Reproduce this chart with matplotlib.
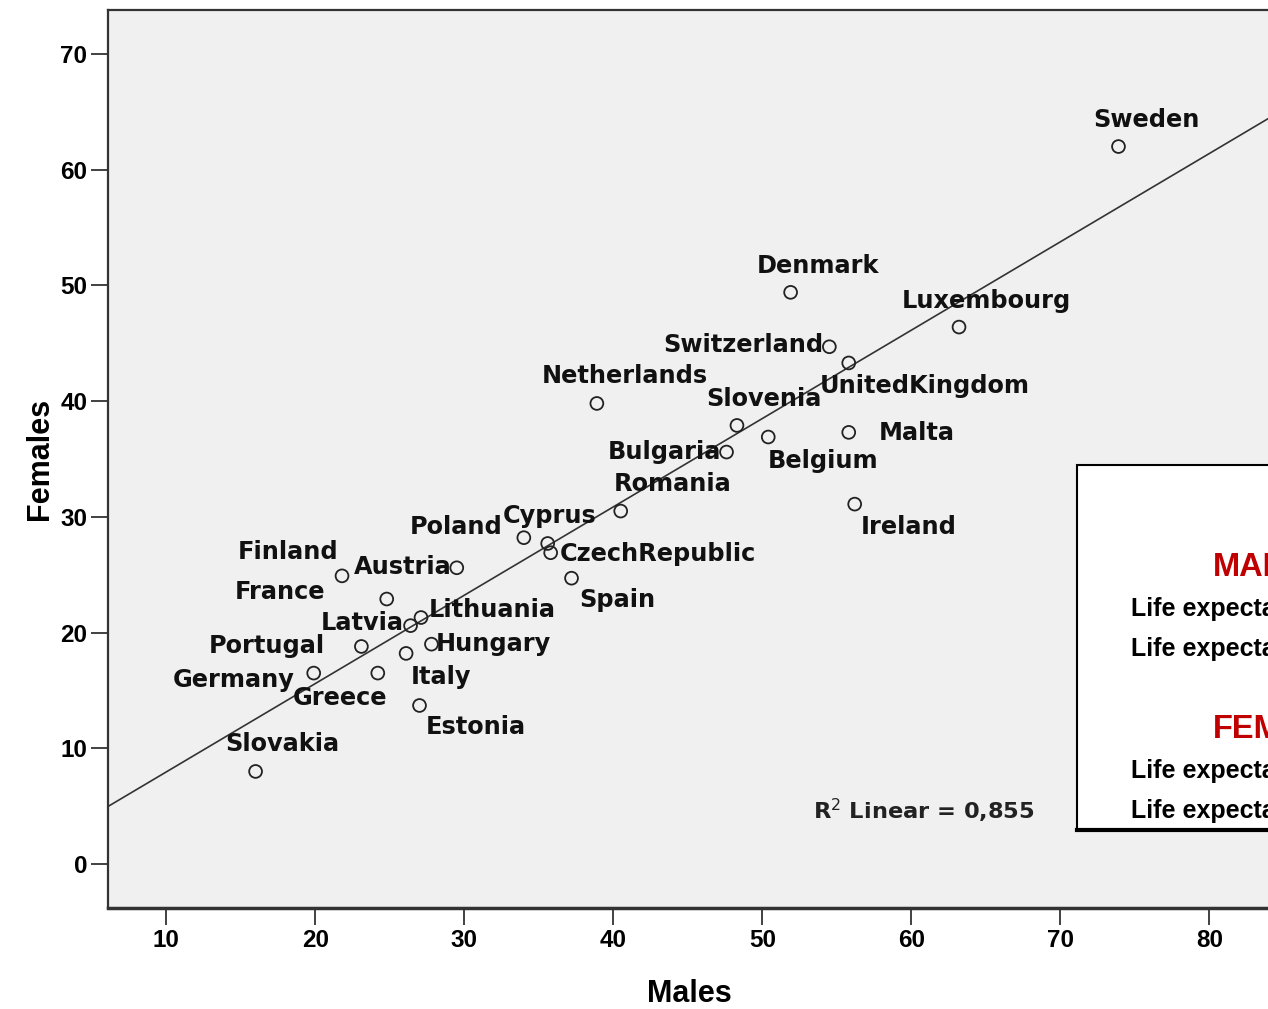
import numpy as np
import matplotlib
matplotlib.use("Agg")
import matplotlib.pyplot as plt
from matplotlib.patches import Rectangle
from matplotlib.lines import Line2D

# data
countries = ["Sweden", "Denmark", "Luxembourg", "Switzerland", "UnitedKingdom",
             "Netherlands", "Slovenia", "Belgium", "Malta", "Bulgaria", "Romania",
             "Ireland", "Poland", "Cyprus", "CzechRepublic", "Spain", "Finland",
             "Austria", "France", "Lithuania", "Latvia", "Hungary", "Portugal",
             "Italy", "Germany", "Greece", "Estonia", "Slovakia"]
males = [73.9, 51.9, 63.2, 54.5, 55.8, 38.9, 48.3, 50.4, 55.8, 47.6, 40.5,
         56.2, 34.0, 35.6, 35.8, 37.2, 21.8, 29.5, 24.8, 27.1, 26.4, 27.8, 23.1,
         26.1, 19.9, 24.2, 27.0, 16.0]
females = [62.0, 49.4, 46.4, 44.7, 43.3, 39.8, 37.9, 36.9, 37.3, 35.6, 30.5,
           31.1, 28.2, 27.7, 26.9, 24.7, 24.9, 25.6, 22.9, 21.3, 20.6, 19.0, 18.8,
           18.2, 16.5, 16.5, 13.7, 8.0]
# label offsets (pixels) from each point, as placed in the picture
label_dx = [28, 27, 27, -86, 76, 28, 27, 55, 68, -62, 52, 54, -68, 2, 107, 46,
            -54, -54, -107, 71, -48, 62, -95, 35, -80, -38, 56, 27]
label_dy = [27, 26, 26, 2, -23, 27, 26, -24, -1, 0, 27, -23, 11, 27, -1, -22,
            24, 1, 7, 8, 3, 0, 0, -24, -7, -25, -22, 27]

r2_text = "R$^2$ Linear = 0,855"
box_lines = [("MALES", "head"), ("Life expectancy at birth", "row"),
             ("Life expectancy at 65", "row"), ("FEMALES", "head"),
             ("Life expectancy at birth", "row"), ("Life expectancy at 65", "row")]

fig = plt.figure(figsize=(12.68, 10.09), dpi=100)
fig.patch.set_facecolor("white")
ax = fig.add_axes([0.0852, 0.1001, 0.925, 0.890])
ax.set_facecolor("#f0f0f0")

ax.scatter(males, females, s=85, facecolors="none", edgecolors="#222222",
           linewidths=1.3, zorder=3)

# linear fit
slope, intercept = np.polyfit(males, females, 1)
xs = np.array([6.1, 84.8])
ax.plot(xs, intercept + slope * xs, color="#333333", lw=1.2, zorder=2)

for name, x, y, dx, dy in zip(countries, males, females, label_dx, label_dy):
    ax.annotate(name, (x, y), xytext=(dx, dy), textcoords="offset pixels",
                ha="center", va="center", fontsize=17.3, fontweight="bold",
                family="DejaVu Sans", color="#111111", zorder=4)

ax.text(53.4, 4.6, r2_text, ha="left", va="center", fontsize=16.2,
        fontweight="bold", family="DejaVu Sans", color="#222222")

ax.set_xlim(6.1, 84.8)
ax.set_ylim(-3.8, 73.8)
ax.set_xticks(range(10, 81, 10))
ax.set_yticks(range(0, 71, 10))
ax.tick_params(length=12, width=1.3, color="#333333", pad=3, labelsize=17.5)
for lab in ax.get_xticklabels() + ax.get_yticklabels():
    lab.set_fontfamily("Liberation Sans")
    lab.set_fontweight("bold")
for side in ["left", "top", "bottom", "right"]:
    ax.spines[side].set_color("#333333")
    ax.spines[side].set_linewidth(1.6)
ax.spines["bottom"].set_linewidth(2.5)

ax.set_xlabel("Males", fontsize=22, fontweight="bold", family="Liberation Sans")
ax.xaxis.set_label_coords(0.4953, -0.079)
ax.set_ylabel("Females", fontsize=22, fontweight="bold", family="Liberation Sans",
              labelpad=4)

# text box on the right, cut by the picture edge as in the original
fig.patches.append(Rectangle((0.8494, 0.1774), 0.2, 0.3617, transform=fig.transFigure,
                             facecolor="white", edgecolor="black", lw=1.5, zorder=5))
fig.lines.append(Line2D([0.8494, 1.0], [0.1774, 0.1774], transform=fig.transFigure,
                        color="black", lw=3, zorder=6))
ypos = [0.438, 0.396, 0.357, 0.2775, 0.236, 0.196]
for (txt, kind), y in zip(box_lines, ypos):
    if kind == "head":
        fig.text(0.9566, y, txt, ha="left", va="center", fontsize=23.5,
                 fontweight="bold", family="Liberation Sans", color="#c00000", zorder=7)
    else:
        fig.text(0.892, y, txt, ha="left", va="center", fontsize=18,
                 fontweight="bold", family="Liberation Sans", color="black", zorder=7)

fig.savefig("out.png", dpi=100)
